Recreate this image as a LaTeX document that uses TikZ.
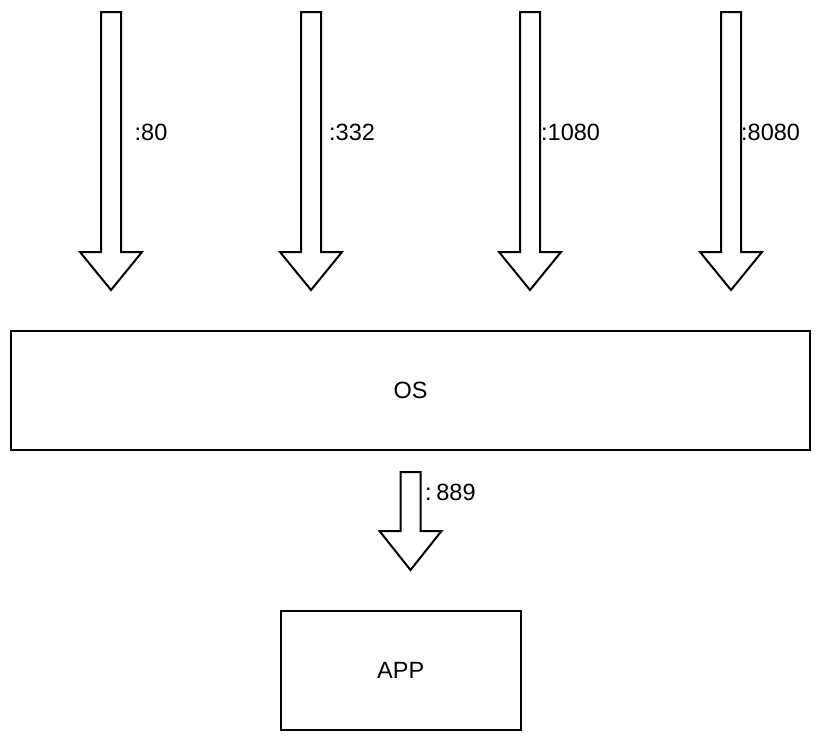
\documentclass[tikz,border=0pt]{standalone}
\usepackage{fontspec}
\setmainfont{Liberation Sans}
\begin{document}
\begin{tikzpicture}[x=1pt,y=-1pt,
  boxstyle/.style={draw=black,line width=2pt,fill=white},
  arrowstyle/.style={draw=black,line width=2pt,fill=white,line join=miter},
  lbl/.style={anchor=west,inner sep=0pt,font=\fontsize{23.5}{28}\selectfont},
  boxtext/.style={font=\fontsize{23.5}{28}\selectfont}]
\useasboundingbox[fill=white] (0,0) rectangle (832,742);
% block arrows: center x, top y, head base y, tip y
\newcommand\myblockarrow[4]{%
  \draw[arrowstyle] (#1-10,#2) -- (#1+10,#2) -- (#1+10,#3) -- (#1+31,#3)
    -- (#1,#4) -- (#1-31,#3) -- (#1-10,#3) -- cycle;}
\myblockarrow{111}{12}{252}{290}
\myblockarrow{311}{12}{252}{290}
\myblockarrow{530}{12}{252}{290}
\myblockarrow{731}{12}{252}{290}
\node[lbl] (l80) at (134.5,132) {:80};
\node[lbl] (l332) at (329,132) {:332};
\node[lbl] (l1080) at (541,132) {:1080};
\node[lbl] (l8080) at (741,132) {:8080};
% OS box
\draw[boxstyle] (11,331) rectangle (810,450);
\node[boxtext] (os) at (410.5,390.5) {OS};
% bottom arrow
\myblockarrow{410.5}{472}{531}{570}
\node[lbl] (l889) at (425,492) {:\hspace{0.2em}889};
% APP box
\draw[boxstyle] (281,611) rectangle (520.5,730);
\node[boxtext] (app) at (400.75,670.5) {APP};
\end{tikzpicture}
\end{document}
